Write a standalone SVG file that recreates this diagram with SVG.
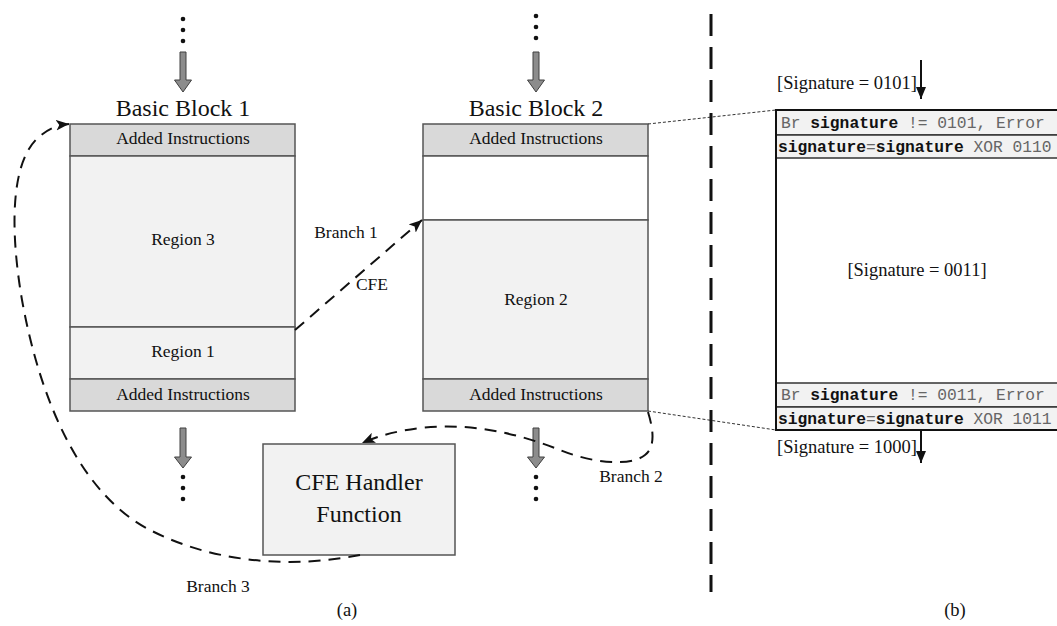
<svg xmlns="http://www.w3.org/2000/svg" width="1057" height="626" viewBox="0 0 1057 626">
  <style>
    .serif { font-family: "Liberation Serif", "Times New Roman", serif; fill: #111; }
    .title { font-size: 24px; text-anchor: middle; }
    .lbl { font-size: 17.5px; text-anchor: middle; }
    .mono { font-family: "Liberation Mono", "Courier New", monospace; font-size: 16.3px; fill: #666; }
    .mono .b { font-weight: bold; fill: #111; }
    .band { fill: #d9d9d9; stroke: #555; stroke-width: 1.5; }
    .region { fill: #f2f2f2; stroke: #555; stroke-width: 1.5; }
    .blank { fill: #ffffff; stroke: #555; stroke-width: 1.5; }
    .row { fill: #f2f2f2; stroke: #333; stroke-width: 1.5; }
    .flow { fill: #8c8c8c; stroke: #404040; stroke-width: 1; }
    .dash { fill: none; stroke: #111; stroke-width: 2; stroke-dasharray: 12 8; }
    .zoomline { fill: none; stroke: #333; stroke-width: 1; stroke-dasharray: 3 2; }
  </style>
  <defs>
    <marker id="head" viewBox="0 0 12 10" refX="12" refY="5" markerWidth="13" markerHeight="11" markerUnits="userSpaceOnUse" orient="auto">
      <path d="M0,0 L12,5 L0,10 L3,5 z" fill="#111"/>
    </marker>
    <marker id="headSolid" viewBox="0 0 10 12" refX="5" refY="12" markerWidth="10" markerHeight="12" markerUnits="userSpaceOnUse" orient="0">
      <path d="M0,0 L10,0 L5,12 z" fill="#111"/>
    </marker>
    <g id="dots">
      <circle cx="0" cy="0" r="2.3" fill="#111"/>
      <circle cx="0" cy="11" r="2.3" fill="#111"/>
      <circle cx="0" cy="22" r="2.3" fill="#111"/>
    </g>
  </defs>

  <rect width="1057" height="626" fill="#ffffff"/>

  <!-- incoming / outgoing flow of block 1 -->
  <g id="flow-bb1">
    <use href="#dots" x="183" y="19"/>
    <polygon class="flow" points="180,52 186,52 186,80 191.5,80 183,92 174.5,80 180,80"/>
    <polygon class="flow" points="180,428 186,428 186,457 191.5,457 183,468 174.5,457 180,457"/>
    <use href="#dots" x="183" y="477"/>
  </g>

  <!-- incoming / outgoing flow of block 2 -->
  <g id="flow-bb2">
    <use href="#dots" x="536" y="16"/>
    <polygon class="flow" points="533,52 539,52 539,80 544.5,80 536,92 527.5,80 533,80"/>
    <polygon class="flow" points="533,428 539,428 539,457 544.5,457 536,468 527.5,457 533,457"/>
    <use href="#dots" x="536" y="477"/>
  </g>

  <!-- Basic Block 1 -->
  <g id="bb1">
    <text class="serif title" x="183" y="116">Basic Block 1</text>
    <rect class="band" x="70" y="124" width="225" height="32"/>
    <rect class="region" x="70" y="156" width="225" height="171"/>
    <rect class="region" x="70" y="327" width="225" height="52"/>
    <rect class="band" x="70" y="379" width="225" height="32"/>
    <text class="serif lbl" x="183" y="144">Added Instructions</text>
    <text class="serif lbl" x="183" y="245">Region 3</text>
    <text class="serif lbl" x="183" y="357">Region 1</text>
    <text class="serif lbl" x="183" y="400">Added Instructions</text>
  </g>

  <!-- Basic Block 2 -->
  <g id="bb2">
    <text class="serif title" x="536" y="116">Basic Block 2</text>
    <rect class="band" x="423" y="124" width="225" height="32"/>
    <rect class="blank" x="423" y="156" width="225" height="64"/>
    <rect class="region" x="423" y="220" width="225" height="159"/>
    <rect class="band" x="423" y="379" width="225" height="32"/>
    <text class="serif lbl" x="536" y="144">Added Instructions</text>
    <text class="serif lbl" x="536" y="305">Region 2</text>
    <text class="serif lbl" x="536" y="400">Added Instructions</text>
  </g>

  <!-- CFE handler -->
  <g id="cfe-handler">
    <rect class="region" x="263" y="444" width="192" height="111"/>
    <text class="serif" x="359" y="490" font-size="24" text-anchor="middle">CFE Handler</text>
    <text class="serif" x="359" y="522" font-size="24" text-anchor="middle">Function</text>
  </g>

  <!-- control-flow edges -->
  <g id="connectors">
    <path class="dash" d="M295,330 L422,220" marker-end="url(#head)"/>
    <path class="dash" d="M648,412 C652,425 657,446 645,455 C630,467 592,463 560,450 C520,434 470,422 420,428 C396,431 378,436 362,443" marker-end="url(#head)"/>
    <path class="dash" d="M360,555 C300,567 220,566 150,530 C80,494 40,400 22,300 C10,230 10,160 40,136 C50,128 58,125 69,124" marker-end="url(#head)"/>
    <path class="zoomline" d="M648,124 L776,110"/>
    <path class="zoomline" d="M648,411 L776,430"/>
    <path d="M921,60 L921,99" stroke="#111" stroke-width="2" marker-end="url(#headSolid)"/>
    <path d="M921,430 L921,463" stroke="#111" stroke-width="2" marker-end="url(#headSolid)"/>
  </g>

  <g id="edge-labels">
    <text class="serif lbl" x="346" y="238">Branch 1</text>
    <text class="serif lbl" x="372" y="290">CFE</text>
    <text class="serif lbl" x="631" y="482">Branch 2</text>
    <text class="serif lbl" x="218" y="592">Branch 3</text>
  </g>

  <!-- separator between the two parts -->
  <line x1="711" y1="14" x2="711" y2="592" stroke="#111" stroke-width="3" stroke-dasharray="22 11"/>

  <!-- instrumented block detail -->
  <g id="detail">
    <rect x="776" y="110" width="290" height="320" fill="#ffffff" stroke="#111" stroke-width="2"/>
    <rect class="row" x="776" y="110" width="290" height="25"/>
    <rect class="row" x="776" y="135" width="290" height="23"/>
    <rect class="row" x="776" y="383" width="290" height="24"/>
    <rect class="row" x="776" y="407" width="290" height="23"/>
    <rect x="776" y="110" width="290" height="320" fill="none" stroke="#111" stroke-width="2"/>
    <text class="mono" x="781" y="128">Br <tspan class="b">signature</tspan> != 0101, Error</text>
    <text class="mono" x="778" y="152"><tspan class="b">signature</tspan>=<tspan class="b">signature</tspan> XOR 0110</text>
    <text class="mono" x="781" y="400">Br <tspan class="b">signature</tspan> != 0011, Error</text>
    <text class="mono" x="778" y="424"><tspan class="b">signature</tspan>=<tspan class="b">signature</tspan> XOR 1011</text>
    <text class="serif" x="917" y="276" font-size="18.5" text-anchor="middle">[Signature = 0011]</text>
    <text class="serif" x="917" y="89" font-size="18.5" text-anchor="end">[Signature = 0101]</text>
    <text class="serif" x="917" y="453" font-size="18.5" text-anchor="end">[Signature = 1000]</text>
  </g>

  <g id="captions">
    <text class="serif" x="347" y="616" font-size="18.5" text-anchor="middle">(a)</text>
    <text class="serif" x="955" y="616" font-size="18.5" text-anchor="middle">(b)</text>
  </g>
</svg>
